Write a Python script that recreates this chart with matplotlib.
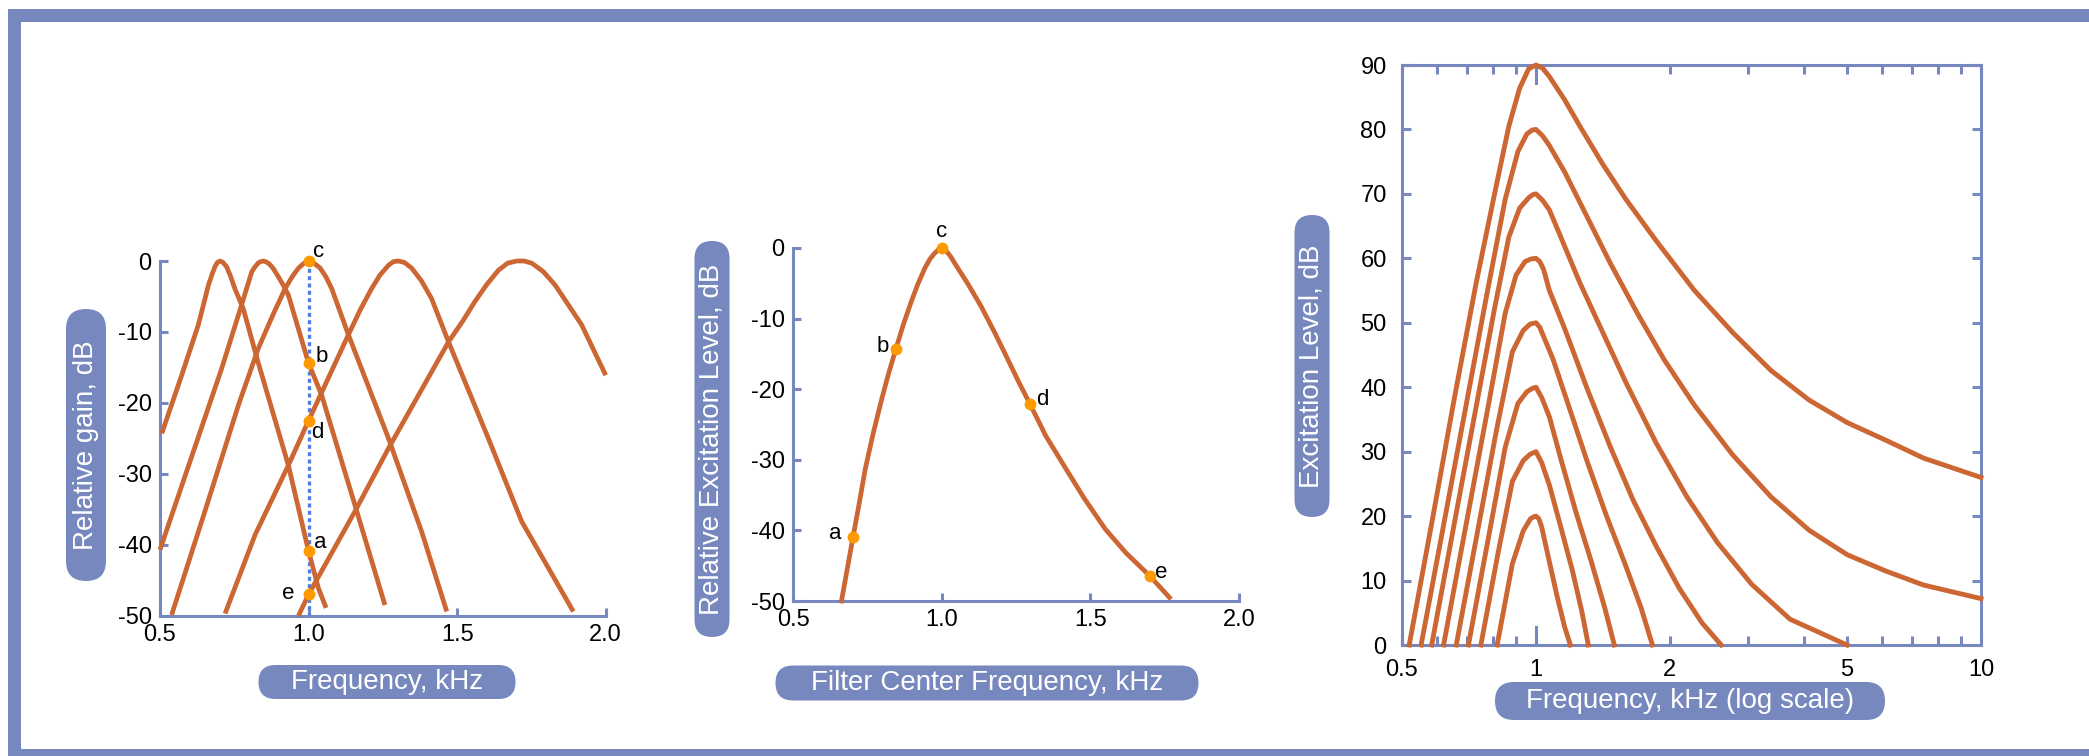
import numpy as np
import matplotlib.pyplot as plt
from matplotlib.patches import Rectangle, FancyBboxPatch

plt.rcParams['font.family'] = ['Liberation Sans', 'DejaVu Sans']

BLUE = '#7788be'
RUST = '#cc6633'
ORANGE = '#ff9900'
DOTLINE = '#4d7fe6'

# ---- left panel: five auditory filters (kHz, dB)
filt_f = [
    [0.506, 0.573, 0.629, 0.663, 0.675, 0.685, 0.693, 0.702, 0.712, 0.724, 0.737, 0.752, 0.780,
     0.831, 0.932, 1.0, 1.033, 1.059],
    [0.5, 0.595, 0.708, 0.773, 0.792, 0.809, 0.820, 0.830, 0.838, 0.848, 0.859, 0.870, 0.882,
     0.895, 0.912, 0.932, 1.0, 1.044, 1.156, 1.257],
    [0.539, 0.651, 0.764, 0.831, 0.880, 0.921, 0.945, 0.966, 0.985, 1.0, 1.018, 1.039, 1.058,
     1.078, 1.134, 1.269, 1.381, 1.465],
    [0.719, 0.820, 0.932, 1.0, 1.134, 1.175, 1.212, 1.240, 1.269, 1.285, 1.302, 1.322, 1.347,
     1.380, 1.414, 1.471, 1.605, 1.717, 1.891],
    [0.966, 1.0, 1.156, 1.269, 1.471, 1.520, 1.560, 1.600, 1.639, 1.670, 1.701, 1.725, 1.751,
     1.790, 1.830, 1.919, 2.0],
]
filt_g = [
    [-24.3, -16.1, -9.0, -3.4, -1.9, -0.8, -0.2, 0.0, -0.2, -0.8, -2.1, -3.9, -6.7,
     -14.4, -28.8, -40.9, -46.1, -48.9],
    [-40.7, -29.0, -15.1, -6.4, -3.8, -1.5, -0.8, -0.3, -0.1, 0.0, -0.15, -0.5, -1.1,
     -2.0, -3.2, -4.8, -14.4, -18.9, -34.4, -48.5],
    [-49.9, -35.3, -20.3, -12.3, -7.6, -3.9, -2.2, -1.0, -0.3, 0.0, -0.3, -1.0, -2.2,
     -3.9, -10.4, -25.0, -38.2, -49.4],
    [-49.7, -38.6, -28.8, -22.5, -10.4, -6.8, -3.9, -2.0, -0.6, -0.1, 0.0, -0.2, -1.0,
     -2.8, -5.3, -11.4, -25.0, -36.7, -49.4],
    [-50.0, -47.0, -35.3, -26.4, -11.4, -8.4, -5.7, -3.3, -1.3, -0.3, 0.0, 0.0, -0.3,
     -1.5, -3.4, -9.0, -16.1],
]
probe_labels = ['a', 'b', 'c', 'd', 'e']
probe_gain = [-40.9, -14.4, 0.0, -22.5, -47.0]

# ---- middle panel: excitation pattern built from the filter outputs
centre_f = [0.663, 0.702, 0.720, 0.743, 0.770, 0.799, 0.820, 0.846, 0.870, 0.896, 0.920, 0.944,
            0.960, 0.975, 0.990, 1.0, 1.015, 1.030, 1.049, 1.090, 1.133, 1.175, 1.217, 1.257,
            1.297, 1.350, 1.411, 1.480, 1.550, 1.620, 1.699, 1.766]
centre_lev = [-50.0, -40.9, -36.8, -31.3, -26.2, -21.3, -18.0, -14.3, -11.0, -7.8, -5.1, -2.8,
              -1.6, -0.8, -0.2, 0.0, -0.4, -1.2, -2.5, -5.2, -8.3, -11.7, -15.3, -18.8,
              -22.1, -26.6, -30.8, -35.5, -39.8, -43.2, -46.4, -49.5]
pt_f = [0.702, 0.846, 1.0, 1.297, 1.699]
pt_lev = [-40.9, -14.3, 0.0, -22.1, -46.4]

# ---- right panel: excitation patterns for 20..90 dB tones at 1 kHz
exc_f = {
    90: [0.519, 0.586, 0.656, 0.734, 0.806, 0.869, 0.919, 0.963, 1.0, 1.035, 1.072, 1.160, 1.255,
         1.413, 1.591, 1.864, 2.271, 2.767, 3.373, 4.111, 5.007, 6.10, 7.43, 10.0],
    80: [0.552, 0.620, 0.694, 0.777, 0.853, 0.911, 0.954, 0.980, 1.0, 1.035, 1.072, 1.160, 1.306,
         1.470, 1.689, 1.940, 2.271, 2.767, 3.373, 4.111, 5.007, 6.10, 7.43, 10.0],
    70: [0.583, 0.656, 0.734, 0.806, 0.869, 0.919, 0.963, 0.985, 1.0, 1.035, 1.072, 1.137, 1.255,
         1.413, 1.591, 1.864, 2.183, 2.557, 3.055, 3.723, 5.0],
    60: [0.620, 0.694, 0.777, 0.853, 0.902, 0.945, 0.975, 1.0, 1.020, 1.040, 1.072, 1.160, 1.306,
         1.470, 1.655, 1.864, 2.099, 2.363, 2.608],
    50: [0.662, 0.734, 0.814, 0.885, 0.936, 0.970, 1.0, 1.020, 1.040, 1.093, 1.183, 1.306, 1.441,
         1.591, 1.722, 1.827],
    40: [0.705, 0.777, 0.853, 0.911, 0.954, 0.980, 1.0, 1.030, 1.072, 1.137, 1.230, 1.332, 1.427, 1.5],
    30: [0.752, 0.821, 0.885, 0.936, 0.970, 1.0, 1.030, 1.072, 1.137, 1.206, 1.268, 1.311],
    20: [0.818, 0.885, 0.936, 0.972, 0.990, 1.0, 1.015, 1.030, 1.072, 1.115, 1.160, 1.195],
}
exc_lev = {
    90: [0, 19.7, 38.4, 56.2, 69.8, 80.5, 86.4, 89.4, 90, 89.5, 88.2, 84.6, 80.5,
         74.6, 69.2, 62.7, 55.0, 48.5, 42.6, 38.0, 34.5, 31.8, 29.0, 26.0],
    80: [0, 18.6, 36.6, 54.7, 69.2, 76.6, 79.3, 79.9, 80, 79.0, 77.5, 73.4, 66.3,
         59.2, 51.5, 44.3, 37.2, 29.5, 23.0, 17.8, 14.0, 11.5, 9.3, 7.2],
    70: [0, 19.0, 37.0, 52.0, 63.3, 67.8, 69.4, 69.9, 70, 69.0, 67.5, 63.3, 56.2,
         48.5, 40.8, 31.3, 23.0, 15.9, 9.4, 4.0, 0],
    60: [0, 18.1, 36.2, 51.5, 57.4, 59.5, 59.9, 60, 59.5, 58.3, 55.0, 49.1, 39.6,
         30.7, 22.4, 15.3, 8.8, 3.4, 0],
    50: [0, 16.5, 33.1, 45.5, 48.8, 49.8, 50, 49.3, 47.9, 44.3, 37.2, 28.3, 20.0,
         12.3, 5.8, 0],
    40: [0, 15.6, 30.7, 37.5, 39.3, 39.8, 40, 38.4, 35.4, 28.9, 20.6, 12.9, 5.8, 0],
    30: [0, 14.1, 25.4, 28.6, 29.6, 30, 28.3, 24.8, 18.3, 11.7, 5.2, 0],
    20: [0, 12.6, 17.7, 19.6, 19.9, 20, 19.6, 18.3, 12.9, 7.6, 2.8, 0],
}

W, H = 2089, 756
fig = plt.figure(figsize=(W / 100, H / 100), dpi=100)


def style_open(ax):
    for s in ['top', 'right']:
        ax.spines[s].set_visible(False)
    for s in ['left', 'bottom']:
        ax.spines[s].set_color(BLUE)
        ax.spines[s].set_linewidth(2.2)
    ax.tick_params(direction='in', length=6, width=2.2, color=BLUE, labelsize=17, pad=6)
    ax.set_xlim(0.5, 2.0)
    ax.set_ylim(-50, 0)
    ax.set_xticks([0.5, 1.0, 1.5, 2.0])
    ax.set_xticklabels(['0.5', '1.0', '1.5', '2.0'])
    ax.set_yticks([0, -10, -20, -30, -40, -50])
    ax.set_yticklabels(['0', '-10', '-20', '-30', '-40', '-50'])
    ax.patch.set_alpha(0)


# left panel
ax1 = fig.add_axes([160 / W, 1 - 615.7 / H, 445.7 / W, 354.7 / H])
style_open(ax1)
ax1.plot([1.0, 1.0], [0, -50], color=DOTLINE, lw=2.4, dashes=(1.2, 1.0), zorder=2)
for fx, gx in zip(filt_f, filt_g):
    ax1.plot(fx, gx, color=RUST, lw=3.4, solid_joinstyle='round', solid_capstyle='butt',
             clip_on=False, zorder=3)
ax1.plot([1.0] * 5, probe_gain, 'o', color=ORANGE, ms=7.5, clip_on=False, zorder=4)
lab_off = {'a': (0.041, 1.2), 'b': (0.046, 0.9), 'c': (0.033, 1.4), 'd': (0.031, -1.7), 'e': (-0.068, 0.1)}
for lab, g in zip(probe_labels, probe_gain):
    dx, dy = lab_off[lab]
    ax1.text(1.0 + dx, g + dy, lab, fontsize=16, ha='center', va='center', clip_on=False)

# middle panel
ax2 = fig.add_axes([793 / W, 1 - 601 / H, 446 / W, 353 / H])
style_open(ax2)
ax2.plot(centre_f, centre_lev, color=RUST, lw=3.4, solid_joinstyle='round', clip_on=False, zorder=3)
ax2.plot(pt_f, pt_lev, 'o', color=ORANGE, ms=7.5, clip_on=False, zorder=4)
mid_off = {'a': (-0.06, 0.4), 'b': (-0.043, 0.4), 'c': (0.0, 2.3), 'd': (0.04, 0.6), 'e': (0.038, 0.4)}
for lab, fx, lv in zip(probe_labels, pt_f, pt_lev):
    dx, dy = mid_off[lab]
    ax2.text(fx + dx, lv + dy, lab, fontsize=16, ha='center', va='center', clip_on=False)

# right panel
ax3 = fig.add_axes([1402 / W, 1 - 645 / H, 579 / W, 580 / H])
for s in ax3.spines.values():
    s.set_color(BLUE)
    s.set_linewidth(2.2)
ax3.set_xscale('log')
ax3.set_xlim(0.5, 10)
ax3.set_ylim(0, 90)
for lvl in [20, 30, 40, 50, 60, 70, 80, 90]:
    ax3.plot(exc_f[lvl], exc_lev[lvl], color=RUST, lw=3.5, solid_joinstyle='round',
             clip_on=False, zorder=3)
ax3.set_xticks([0.5, 1, 2, 5, 10])
ax3.set_xticklabels(['0.5', '1', '2', '5', '10'])
ax3.set_xticks([0.6, 0.7, 0.8, 0.9, 3, 4, 6, 7, 8, 9], minor=True)
ax3.xaxis.set_minor_formatter(plt.NullFormatter())
ax3.set_yticks(range(0, 100, 10))
ax3.tick_params(which='both', direction='in', length=6.5, width=2.2, color=BLUE,
                top=True, right=True, labelsize=17)
ax3.tick_params(axis='y', pad=11)
ax3.tick_params(axis='x', pad=10)
ax3.axvline(1, ymin=0, ymax=0.031, color=BLUE, lw=2.2)
ax3.axvline(1, ymin=0.969, ymax=1, color=BLUE, lw=2.2)

# overlay: frame and label pills in pixel coordinates
ov = fig.add_axes([0, 0, 1, 1], zorder=10)
ov.set_xlim(0, W)
ov.set_ylim(H, 0)
ov.axis('off')
ov.patch.set_alpha(0)
ov.add_patch(Rectangle((8, 9), W - 8, 13, color=BLUE, lw=0))
ov.add_patch(Rectangle((8, 9), 13, H - 9, color=BLUE, lw=0))
ov.add_patch(Rectangle((8, 749), W - 8, 10, color=BLUE, lw=0))

pills = [
    ('Relative gain, dB', 86, 445, 40, 272, 90),
    ('Frequency, kHz', 387, 682, 257, 34, 0),
    ('Relative Excitation Level, dB', 712, 439, 35, 396, 90),
    ('Filter Center Frequency, kHz', 987, 683, 423, 35, 0),
    ('Excitation Level, dB', 1312, 366, 35, 302, 90),
    ('Frequency, kHz (log scale)', 1690, 701, 390, 38, 0),
]
for txt, cx, cy, w, h, rot in pills:
    r = min(w, h) / 2
    ov.add_patch(FancyBboxPatch((cx - w / 2, cy - h / 2), w, h,
                                boxstyle=f'round,pad=0,rounding_size={r}',
                                fc=BLUE, ec='none'))
    ov.text(cx, cy, txt, color='white', fontsize=20, ha='center', va='center',
            rotation=rot, rotation_mode='anchor')

fig.savefig('out.png', dpi=100)
